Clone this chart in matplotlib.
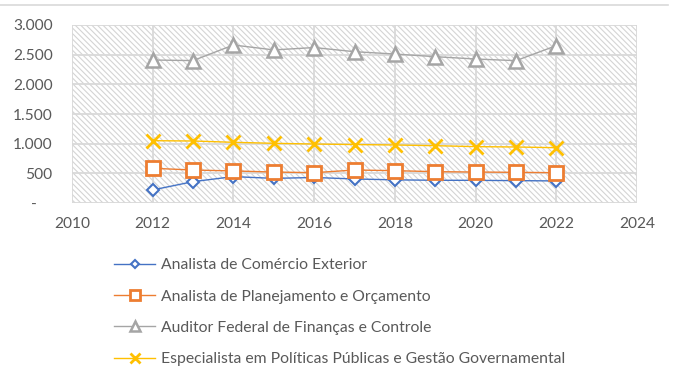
import matplotlib
matplotlib.use("Agg")
import matplotlib.pyplot as plt
from matplotlib.patches import Rectangle
from matplotlib.lines import Line2D
from matplotlib.ticker import FuncFormatter

# ----------------------------------------------------------------------------
# Données
# ----------------------------------------------------------------------------
anos = [2012, 2013, 2014, 2015, 2016, 2017, 2018, 2019, 2020, 2021, 2022]

comercio_exterior = [220, 360, 445, 415, 430, 405, 390, 383, 382, 377, 372]
planejamento = [585, 556, 540, 522, 511, 556, 545, 528, 522, 517, 511]
auditor = [2410, 2400, 2663, 2580, 2620, 2550, 2511, 2466, 2427, 2399, 2652]
especialista = [1050, 1045, 1023, 1006, 994, 985, 978, 966, 950, 944, 932]

series_labels = [
    "Analista de Comércio Exterior",
    "Analista de Planejamento e Orçamento",
    "Auditor Federal de Finanças e Controle",
    "Especialista em Políticas Públicas e Gestão Governamental",
]

x_ticks = [2010, 2012, 2014, 2016, 2018, 2020, 2022, 2024]
y_ticks = [0, 500, 1000, 1500, 2000, 2500, 3000]

# ----------------------------------------------------------------------------
# Style
# ----------------------------------------------------------------------------
plt.rcParams["font.family"] = ["Lato", "DejaVu Sans"]
plt.rcParams["hatch.linewidth"] = 0.8
TXT = "#595959"
GRID = "#d9d9d9"


def fmt_y(v, _):
    if v == 0:
        return "-    "
    return f"{int(v):,}".replace(",", ".")


fig = plt.figure(figsize=(6.73, 3.74), dpi=100)
ax = fig.add_axes([72 / 673, 1 - 203 / 374, 565 / 673, 178 / 374])

# fond hachuré
ax.add_patch(Rectangle((0, 0), 1, 1, transform=ax.transAxes, facecolor="white",
                       edgecolor="#d4d4d4", hatch="\\\\\\\\\\\\", lw=0, zorder=0))

ax.plot(anos, comercio_exterior, "-D", color="#4472C4", lw=1, ms=6,
        mfc="white", mec="#4472C4", mew=1.5, label=series_labels[0], zorder=3)
ax.plot(anos, planejamento, "-s", color="#ED7D31", lw=1, ms=10,
        mfc="white", mec="#ED7D31", mew=2, label=series_labels[1], zorder=4)
ax.plot(anos, auditor, "-^", color="#A5A5A5", lw=1, ms=10,
        mfc="white", mec="#A5A5A5", mew=1.8, label=series_labels[2], zorder=3)
ax.plot(anos, especialista, "-x", color="#FFC000", lw=1, ms=10,
        mew=2, label=series_labels[3], zorder=3)

ax.set_xlim(2010, 2024)
ax.set_ylim(0, 3000)
ax.set_xticks(x_ticks)
ax.set_yticks(y_ticks)
ax.yaxis.set_major_formatter(FuncFormatter(fmt_y))
ax.grid(True, color=GRID, lw=1.3, zorder=1)
ax.set_axisbelow(True)
for s in ax.spines.values():
    s.set_visible(False)
ax.tick_params(length=0, labelsize=11.2, labelcolor=TXT)
ax.tick_params(axis="y", pad=14)
ax.tick_params(axis="x", pad=10)

# trait en haut
fig.add_artist(Line2D([0, 668 / 673], [1 - 5 / 374, 1 - 5 / 374],
                      color=GRID, lw=1.2, transform=fig.transFigure))

leg = fig.legend(loc="upper left", bbox_to_anchor=(108 / 673, 1 - 252 / 374),
                 ncol=1, frameon=False, fontsize=11.3, labelspacing=1.1,
                 handlelength=2.6, handletextpad=0.4, borderaxespad=0)
for t in leg.get_texts():
    t.set_color(TXT)
for h in leg.legend_handles:
    h.set_markersize(h.get_markersize() * 0.75)

fig.savefig("out.png", dpi=100)
